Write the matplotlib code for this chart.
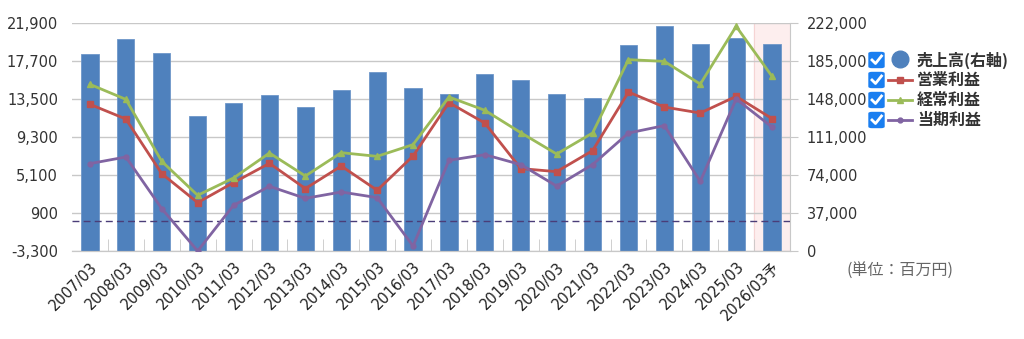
import numpy as np
import matplotlib.pyplot as plt
from matplotlib.patches import FancyBboxPatch
from matplotlib.lines import Line2D

plt.rcParams['font.family'] = ['DejaVu Sans', 'Noto Sans CJK JP']

# data (百万円)
years = ['2007/03', '2008/03', '2009/03', '2010/03', '2011/03', '2012/03', '2013/03',
         '2014/03', '2015/03', '2016/03', '2017/03', '2018/03', '2019/03', '2020/03',
         '2021/03', '2022/03', '2023/03', '2024/03', '2025/03', '2026/03予']
sales = [191500, 206100, 192800, 131800, 143800, 151600, 139900, 156800, 174300, 158400,
         152900, 172700, 166200, 152900, 148700, 200600, 219400, 201900, 207100, 201900]
operating = [12910, 11290, 5250, 2050, 4260, 6390, 3600, 6090, 3410, 7200,
             13100, 10840, 5810, 5470, 7790, 14270, 12610, 11950, 13790, 11330]
ordinary = [15120, 13460, 6610, 2855, 4770, 7530, 4990, 7570, 7160, 8460,
            13720, 12250, 9780, 7420, 9740, 17850, 17660, 15150, 21530, 16000]
net = [6360, 7090, 1385, -3300, 1750, 3850, 2520, 3220, 2600, -2750,
       6720, 7350, 6250, 3880, 6250, 9740, 10560, 4400, 13500, 10400]

left_ticks = [-3300, 900, 5100, 9300, 13500, 17700, 21900]
right_ticks = [0, 37000, 74000, 111000, 148000, 185000, 222000]

c_bar = '#4f81bd'
c_op = '#c0504d'
c_ord = '#9bbb59'
c_net = '#8064a2'
grid_c = '#c8c8c8'

W, H = 1024, 339
fig = plt.figure(figsize=(W / 100, H / 100), dpi=100)
ax2 = fig.add_axes([72 / W, 1 - 251 / H, (790 - 72) / W, 228 / H])  # bars, right axis
ax = ax2.twinx()  # lines, left axis
ax.set_zorder(ax2.get_zorder() + 1)
ax.patch.set_visible(False)

x = np.arange(len(years))

# forecast highlight
ax2.axvspan(x[-1] - 0.5, x[-1] + 0.5, color='#fdeeee', zorder=0)
for xe in (x[-1] - 0.5, x[-1] + 0.5):
    ax2.axvline(xe, color='#f6d4d4', lw=0.8, zorder=0.5)

ax2.bar(x, sales, width=0.48, color=c_bar, edgecolor='#6f97c9', linewidth=0.6, zorder=2)
ax2.set_ylim(0, 222000)
ax2.set_yticks(right_ticks)
ax2.set_yticklabels([f'{v:,}' for v in right_ticks])
ax2.yaxis.tick_right()
ax2.grid(axis='y', color=grid_c, lw=1, zorder=1)
ax2.set_axisbelow(True)

ax.set_ylim(-3300, 21900)
ax.set_yticks(left_ticks)
ax.set_yticklabels([f'{v:,}' for v in left_ticks])
ax.yaxis.tick_left()

ax.axhline(0, color='#4a3d78', lw=1, ls=(0, (5, 3)), zorder=3)
ax.plot(x, operating, color=c_op, lw=2, marker='s', ms=4, zorder=4)
ax.plot(x, ordinary, color=c_ord, lw=2, marker='^', ms=5, zorder=4)
ax.plot(x, net, color=c_net, lw=2, marker='o', ms=3.5, zorder=4)

for a in (ax, ax2):
    a.set_xlim(-0.5, len(years) - 0.5)
    for s in ('top', 'left', 'right'):
        a.spines[s].set_visible(False)
    a.spines['bottom'].set_color(grid_c)
ax2.spines['right'].set_visible(True)
ax2.spines['right'].set_color(grid_c)

ax.tick_params(axis='y', length=0, pad=10, labelsize=10.5, labelcolor='#333333')
ax2.tick_params(axis='y', length=6, color=grid_c, pad=6, labelsize=10.5, labelcolor='#333333')

ax2.set_xticks(x)
ax2.set_xticklabels(years, rotation=45, ha='right', rotation_mode='anchor',
                    family=['DejaVu Sans', 'Noto Sans CJK JP'])
ax2.tick_params(axis='x', length=0, pad=6, labelsize=10.5, labelcolor='#222222')
ax2.set_xticks(x[:-1] + 0.5, minor=True)
ax2.tick_params(axis='x', which='minor', direction='in', length=9, color=grid_c)
ax.tick_params(axis='x', which='both', bottom=False, labelbottom=False)

# legend (figure pixels)
def fx(px):
    return px / W

def fy(py):
    return 1 - py / H

labels = ['売上高(右軸)', '営業利益', '経常利益', '当期利益']
rows = [60, 80, 100, 120]
for i, (lab, py) in enumerate(zip(labels, rows)):
    fig.add_artist(FancyBboxPatch((fx(869), fy(py + 7.5)), fx(15), 15 / H,
                                  boxstyle='round,pad=0,rounding_size=0.003',
                                  transform=fig.transFigure, fc='#1a7ef0', ec='#1a7ef0'))
    fig.add_artist(Line2D([fx(872), fx(875.5), fx(881.5)], [fy(py), fy(py + 3.5), fy(py - 4)],
                          transform=fig.transFigure, color='white', lw=2))
    if i == 0:
        fig.add_artist(Line2D([fx(900)], [fy(py - 1)], transform=fig.transFigure,
                              marker='o', ms=12, color=c_bar, ls='none'))
    else:
        col, mk, ms = [(c_op, 's', 4), (c_ord, '^', 5), (c_net, 'o', 3.5)][i - 1]
        fig.add_artist(Line2D([fx(888), fx(912)], [fy(py), fy(py)], transform=fig.transFigure,
                              color=col, lw=2))
        fig.add_artist(Line2D([fx(900)], [fy(py)], transform=fig.transFigure,
                              color=col, marker=mk, ms=ms, ls='none'))
    fig.text(fx(917), fy(py), lab, fontsize=11.5, fontweight='bold', va='center', ha='left',
             color='#333333', family=['Noto Sans CJK JP', 'DejaVu Sans'])

fig.text(fx(900), fy(271), '(単位：百万円)', fontsize=11.5, va='center', ha='center',
         color='#666666', family=['Noto Sans CJK JP', 'DejaVu Sans'])

fig.savefig('out.png', dpi=100)
